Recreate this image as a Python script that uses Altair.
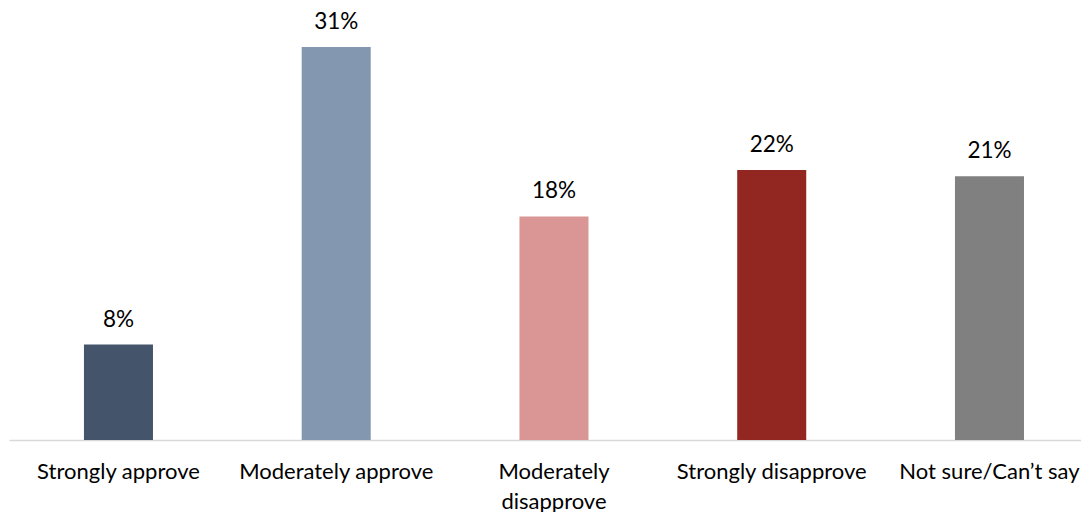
import altair as alt
import pandas as pd

categories = ["Strongly approve", "Moderately approve", "Moderately disapprove",
              "Strongly disapprove", "Not sure/Can\u2019t say"]
values = [7.6, 31.3, 17.8, 21.5, 21.0]
labels = ["8%", "31%", "18%", "22%", "21%"]
colors = ["#44546A", "#8497B0", "#DA9694", "#922722", "#808080"]

df = pd.DataFrame({"cat": categories, "val": values, "lab": labels})

FONT = "Lato"

x = alt.X("cat:N", sort=categories,
          scale=alt.Scale(paddingInner=0.683, paddingOuter=0.303, align=0.568),
          axis=alt.Axis(title=None, labelAngle=0, ticks=False, labelPadding=21,
                        labelFontSize=22, labelFont=FONT, labelColor="#000000",
                        domainColor="#D9D9D9", domainWidth=1.5, labelLimit=300,
                        labelLineHeight=30,
                        labelExpr="datum.label == 'Moderately disapprove' ? ['Moderately','disapprove'] : datum.label"))
y = alt.Y("val:Q", scale=alt.Scale(domain=[0, 34.4], nice=False), axis=None)

bars = alt.Chart(df).mark_bar().encode(
    x=x, y=y,
    color=alt.Color("cat:N", sort=categories,
                    scale=alt.Scale(domain=categories, range=colors), legend=None),
)
text = alt.Chart(df).mark_text(baseline="alphabetic", dy=-18, fontSize=22.5,
                               font=FONT, color="#000000").encode(
    x=alt.X("cat:N", sort=categories), y="val:Q", text="lab:N")

chart = alt.layer(bars, text).properties(
    width=1072, height=432,
    padding={"left": 1, "top": 0, "right": 0, "bottom": 72},
    autosize=alt.AutoSizeParams(type="none"),
    background="white",
).configure_view(strokeWidth=0, stroke="transparent")

chart.save("out.html", embed_options={"renderer": "svg", "actions": False})
